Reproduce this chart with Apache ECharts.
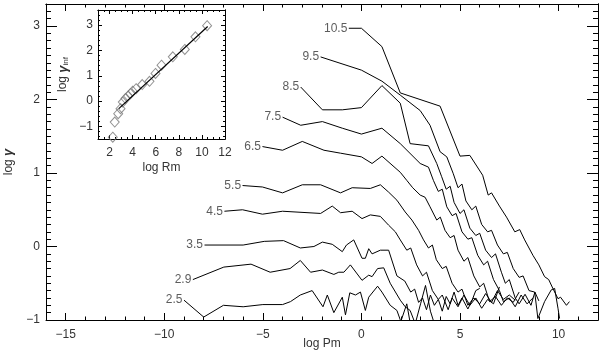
<!DOCTYPE html>
<html>
<head>
<meta charset="utf-8">
<script src="https://cdn.jsdelivr.net/npm/echarts@6.0.0/dist/echarts.min.js"></script>
<style>
  html, body { margin: 0; padding: 0; background: #fff; }
  #chart { width: 600px; height: 357px; }
</style>
</head>
<body>
<div id="chart"></div>
<script>
// curves of log gamma vs log Pm, one per log Rm value
const curveNames = ['2.5', '2.9', '3.5', '4.5', '5.5', '6.5', '7.5', '8.5', '9.5', '10.5'];

const rm25 = [[-9,-0.73],[-8,-0.96],[-7,-0.80],[-6,-0.82],[-5,-0.79],[-4,-0.79],[-3.6,-0.75],[-3.1,-0.66],[-2.5,-0.60],[-1.95,-0.82],[-1.73,-0.66],[-1.4,-0.90],[-0.97,-0.69],[-0.81,-0.93],[-0.59,-0.63],[-0.3,-0.66],[-0.05,-0.62],[0.2,-0.87],[0.37,-0.69],[0.82,-0.54],[1.04,-0.62],[1.46,-0.80],[1.8,-0.87],[2.0,-1.02],[2.3,-0.78],[2.5,-1.08]];
const rm29 = [[-8.55,-0.45],[-6.98,-0.28],[-5.6,-0.24],[-4.63,-0.35],[-3.62,-0.30],[-3.1,-0.19],[-2.58,-0.35],[-1.98,-0.32],[-1.4,-0.38],[-1.15,-0.35],[-0.89,-0.35],[-0.56,-0.25],[0.03,-0.46],[0.37,-0.39],[0.54,-0.41],[0.82,-0.30],[1.13,-0.29],[1.46,-0.50],[1.97,-0.73],[2.22,-0.82],[2.47,-0.87],[2.73,-1.05],[3.0,-0.78],[3.25,-0.53],[3.5,-0.88],[3.7,-1.05]];
const rm35 = [[-7.96,0.02],[-6,0.02],[-4.93,0.07],[-3.95,0.08],[-3.1,-0.02],[-2.41,0.0],[-1.98,0.06],[-1.48,0.03],[-0.97,-0.07],[-0.76,0.02],[-0.39,0.09],[0.03,-0.16],[0.2,-0.16],[0.37,-0.03],[0.54,-0.10],[0.96,-0.05],[1.38,-0.05],[1.8,-0.40],[2.2,-0.47],[2.5,-0.62],[2.7,-0.58],[2.9,-0.76],[3.1,-0.70],[3.3,-0.86],[3.5,-0.66],[3.7,-0.80],[3.9,-0.72],[4.1,-0.88],[4.3,-0.68],[4.5,-0.78],[4.7,-0.62],[4.9,-0.80],[5.1,-0.70],[5.4,-0.85],[5.6,-0.74],[5.8,-0.60],[6.0,-0.57]];
const rm45 = [[-6.95,0.48],[-6.03,0.50],[-5.02,0.44],[-4.0,0.48],[-2.07,0.45],[-1.48,0.55],[-1.06,0.46],[-0.47,0.48],[0.03,0.38],[0.45,0.43],[0.96,0.41],[1.38,0.29],[1.72,0.20],[1.97,0.09],[2.3,-0.05],[2.5,-0.02],[2.8,-0.25],[3.1,-0.40],[3.3,-0.35],[3.6,-0.60],[3.9,-0.72],[4.1,-0.66],[4.4,-0.86],[4.6,-0.70],[4.9,-0.82],[5.2,-0.66],[5.5,-0.80],[5.8,-0.70],[6.1,-0.84],[6.4,-0.72],[6.7,-0.78],[7.0,-0.55]];
const rm55 = [[-6.03,0.83],[-5.02,0.81],[-4.0,0.73],[-3.0,0.84],[-2.07,0.84],[-1.06,0.73],[-0.47,0.80],[0.45,0.79],[0.96,0.84],[1.38,0.74],[1.8,0.63],[2.22,0.47],[2.56,0.36],[2.9,0.22],[3.15,0.09],[3.4,-0.02],[3.6,0.02],[3.8,-0.18],[4.1,-0.30],[4.3,-0.27],[4.6,-0.50],[4.9,-0.62],[5.1,-0.58],[5.4,-0.80],[5.7,-0.70],[6.0,-0.78],[6.3,-0.64],[6.6,-0.76],[6.9,-0.60],[7.2,-0.72],[7.5,-0.66],[7.8,-0.73]];
const rm65 = [[-5.02,1.36],[-4.0,1.31],[-3.0,1.43],[-1.9,1.31],[-1.06,1.27],[0,1.22],[0.54,1.13],[1.04,1.23],[1.97,1.01],[2.3,0.90],[2.6,0.80],[2.98,0.70],[3.23,0.67],[3.48,0.54],[3.82,0.36],[4.0,0.40],[4.24,0.22],[4.5,0.12],[4.7,0.15],[4.9,-0.05],[5.2,-0.20],[5.4,-0.15],[5.7,-0.40],[6.0,-0.55],[6.2,-0.50],[6.5,-0.75],[6.8,-0.68],[7.1,-0.80],[7.4,-0.70],[7.7,-0.76],[8.0,-0.62]];
const rm75 = [[-4.0,1.76],[-3.08,1.65],[-1.98,1.70],[-0.97,1.61],[0,1.53],[1.04,1.61],[1.97,1.40],[2.98,1.13],[3.4,1.08],[3.65,0.90],[3.9,0.75],[4.1,0.78],[4.33,0.54],[4.6,0.42],[4.8,0.45],[5.1,0.20],[5.4,0.10],[5.6,0.12],[5.9,-0.12],[6.2,-0.25],[6.4,-0.20],[6.7,-0.45],[7.0,-0.60],[7.2,-0.75],[7.5,-0.70],[7.8,-0.82],[8.1,-0.66],[8.4,-0.78],[8.7,-0.70]];
const rm85 = [[-3.08,2.17],[-1.98,1.86],[-0.97,1.86],[0,1.89],[1.04,2.19],[1.97,1.95],[2.47,1.40],[3.4,1.37],[3.82,1.13],[4.07,0.95],[4.3,0.78],[4.5,0.82],[4.7,0.60],[5.0,0.45],[5.2,0.50],[5.5,0.25],[5.8,0.15],[6.0,0.18],[6.3,-0.05],[6.6,-0.15],[6.8,-0.10],[7.1,-0.35],[7.3,-0.50],[7.5,-0.45],[7.8,-0.70],[8.0,-0.78],[8.3,-0.65],[8.6,-0.80],[8.8,-0.62],[9.0,-0.74]];
const rm95 = [[-2.07,2.58],[0,2.40],[1.04,2.25],[1.97,2.06],[2.98,1.85],[3.48,1.65],[3.99,1.29],[4.33,1.22],[4.66,0.99],[4.9,0.80],[5.1,0.85],[5.3,0.62],[5.6,0.50],[5.8,0.55],[6.1,0.30],[6.4,0.20],[6.6,0.22],[6.9,0.02],[7.2,-0.10],[7.4,-0.08],[7.7,-0.30],[8.0,-0.42],[8.2,-0.40],[8.5,-0.60],[8.79,-0.62],[8.95,-0.98],[9.29,-0.75],[9.63,-0.59],[9.8,-0.57],[9.97,-0.84],[10.05,-0.98]];
const rm105 = [[-0.64,2.97],[0,2.97],[1.04,2.72],[1.97,2.09],[3.99,1.91],[5.0,1.23],[5.5,1.24],[6.15,0.97],[6.43,0.70],[6.6,0.73],[7.0,0.55],[7.36,0.40],[7.78,0.20],[8.03,0.23],[8.28,0.09],[8.7,-0.12],[9.0,-0.25],[9.29,-0.41],[9.5,-0.45],[9.71,-0.57],[9.97,-0.71],[10.1,-0.69],[10.4,-0.80],[10.55,-0.75]];
const curves = [rm25, rm29, rm35, rm45, rm55, rm65, rm75, rm85, rm95, rm105];

// inset: log gamma_inf vs log Rm
const insetRm = [2.28, 2.45, 2.75, 2.95, 3.15, 3.38, 3.61, 3.81, 4.0, 4.3, 4.83, 5.46, 5.98, 6.5, 7.48, 8.52, 9.44, 10.45];
const insetGamma = [-1.43, -0.83, -0.5, -0.3, -0.04, 0.1, 0.2, 0.29, 0.39, 0.49, 0.65, 0.78, 1.09, 1.42, 1.75, 2.04, 2.54, 2.98];
const fitRm = [2.8, 10.5];
const fitGamma = [-0.3, 2.95];

// tick values
const mainXLabels = [-15, -10, -5, 0, 5, 10];
const mainYLabels = [-1, 0, 1, 2, 3];
const insetXLabels = [2, 4, 6, 8, 10, 12];
const insetYLabels = [-1, 0, 1, 2, 3];

function steps(a, b, s) {
  const out = [];
  for (let i = 0; a + i * s <= b + 1e-9; i++) out.push(+(a + i * s).toFixed(4));
  return out;
}

const FONT = 'Liberation Sans';
const TXT = '#333';
const minus = v => String(v).replace('-', '\u2212');

function axis(grid, pos, min, max, ticks, len, label) {
  const a = {
    type: 'value', gridIndex: grid, position: pos, min: min, max: max,
    axisLine: { show: !!label || pos === 'top' || pos === 'right', onZero: false, lineStyle: { color: '#000', width: 1 } },
    axisTick: { show: true, inside: true, length: len, customValues: ticks, lineStyle: { color: '#000', width: 1 } },
    axisLabel: { show: false },
    splitLine: { show: false },
    nameMoveOverlap: false
  };
  if (label) {
    a.axisLabel = Object.assign({ show: true, customValues: ticks, formatter: minus, color: TXT, fontSize: 12, fontFamily: FONT }, label);
  }
  return a;
}

const xAxes = [
  axis(0, 'bottom', -16, 12, mainXLabels, 7, { margin: 9 }),
  axis(0, 'bottom', -16, 12, steps(-16, 12, 1), 3.5),
  axis(0, 'top', -16, 12, mainXLabels, 7),
  axis(0, 'top', -16, 12, steps(-16, 12, 1), 3.5),
  axis(1, 'bottom', 1, 12, insetXLabels, 4, { margin: 8 }),
  axis(1, 'bottom', 1, 12, steps(1, 12, 0.5), 2),
  axis(1, 'top', 1, 12, insetXLabels, 4),
  axis(1, 'top', 1, 12, steps(1, 12, 0.5), 2)
];
xAxes[0].name = 'log Pm';
xAxes[0].nameLocation = 'middle';
xAxes[0].nameGap = 18;
xAxes[0].nameTextStyle = { color: TXT, fontSize: 12, fontFamily: FONT };
xAxes[4].name = 'log Rm';
xAxes[4].nameLocation = 'middle';
xAxes[4].nameGap = 23;
xAxes[4].nameTextStyle = { color: TXT, fontSize: 12, fontFamily: FONT };

const yAxes = [
  axis(0, 'left', -1, 3.3, mainYLabels, 11, { margin: 6 }),
  axis(0, 'left', -1, 3.3, steps(-1, 3.3, 0.1), 5),
  axis(0, 'right', -1, 3.3, mainYLabels, 11),
  axis(0, 'right', -1, 3.3, steps(-1, 3.3, 0.1), 5),
  axis(1, 'left', -1.5, 3.6, insetYLabels, 4, { margin: 5 }),
  axis(1, 'left', -1.5, 3.6, steps(-1.4, 3.6, 0.2), 2),
  axis(1, 'right', -1.5, 3.6, insetYLabels, 4),
  axis(1, 'right', -1.5, 3.6, steps(-1.4, 3.6, 0.2), 2)
];
yAxes[0].name = 'log {g|\u03b3}';
yAxes[0].nameLocation = 'middle';
yAxes[0].nameGap = 31;
yAxes[0].nameTextStyle = { color: TXT, fontSize: 12, fontFamily: FONT, rich: { g: { fontSize: 13, fontWeight: 'bold', fontStyle: 'italic', fontFamily: FONT, color: TXT } } };
yAxes[4].name = 'log {g|\u03b3}{s|inf}';
yAxes[4].nameLocation = 'middle';
yAxes[4].nameGap = 28;
yAxes[4].nameTextStyle = { color: TXT, fontSize: 12, fontFamily: FONT, rich: { g: { fontSize: 13, fontWeight: 'bold', fontStyle: 'italic', fontFamily: FONT, color: TXT }, s: { fontSize: 8, fontFamily: FONT, color: TXT, padding: [6, 0, 0, 0] } } };

const series = curves.map((c, i) => ({
  name: curveNames[i], type: 'line', xAxisIndex: 0, yAxisIndex: 0,
  data: c, showSymbol: false, symbol: 'none', clip: true,
  lineStyle: { color: '#000', width: 1 }, silent: true
}));

series.push({
  type: 'scatter', xAxisIndex: 0, yAxisIndex: 0, symbolSize: 1,
  itemStyle: { color: 'transparent' },
  label: { show: true, position: 'left', distance: 1, color: TXT, fontSize: 12, fontFamily: FONT, formatter: p => p.name },
  data: curves.map((c, i) => ({ name: curveNames[i], value: c[0] }))
});

series.push({
  type: 'line', xAxisIndex: 4, yAxisIndex: 4, symbol: 'none',
  lineStyle: { color: '#000', width: 1.2 },
  data: fitRm.map((x, i) => [x, fitGamma[i]])
});
series.push({
  type: 'scatter', xAxisIndex: 4, yAxisIndex: 4, symbol: 'diamond', symbolSize: [9, 10],
  itemStyle: { color: 'rgba(255,255,255,0)', borderColor: '#777', borderWidth: 1 },
  data: insetRm.map((x, i) => [x, insetGamma[i]])
});

const chart = echarts.init(document.getElementById('chart'), null, { renderer: 'canvas' });
chart.setOption({
  animation: false,
  backgroundColor: '#fff',
  grid: [
    { left: 46, top: 4, width: 552, height: 316, outerBoundsMode: 'none', containLabel: false },
    { left: 98, top: 10, width: 127, height: 129, outerBoundsMode: 'none', containLabel: false }
  ],
  xAxis: xAxes,
  yAxis: yAxes,
  series: series
});
window.addEventListener('resize', () => chart.resize());
</script>
</body>
</html>
